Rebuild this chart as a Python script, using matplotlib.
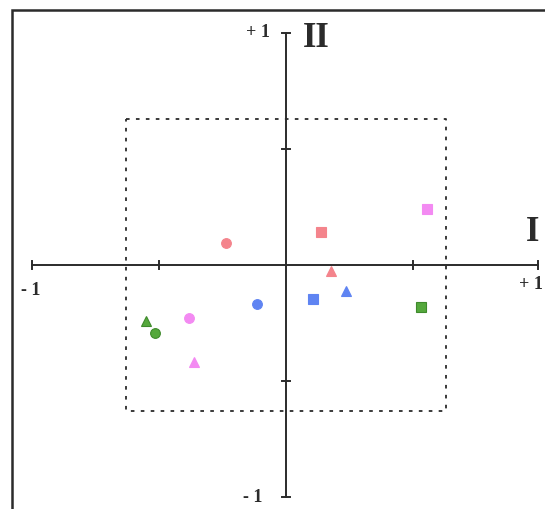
import matplotlib
matplotlib.use("Agg")
import matplotlib.pyplot as plt
from matplotlib.patches import Rectangle

# Factor scores on axes I and II
labels = ["red circle", "red square", "red triangle",
          "blue circle", "blue square", "blue triangle",
          "green circle", "green square", "green triangle",
          "pink circle", "pink square", "pink triangle"]
axis1 = [-0.236, 0.138, 0.177, -0.114, 0.106, 0.236, -0.516, 0.531, -0.551, -0.382, 0.555, -0.362]
axis2 = [0.095, 0.142, -0.026, -0.168, -0.147, -0.112, -0.293, -0.181, -0.241, -0.228, 0.241, -0.418]
group_colors = {"red": "#f4848c", "blue": "#5f84f2", "green": "#55a83c", "pink": "#f38af2"}
shape_markers = {"circle": "o", "square": "s", "triangle": "^"}
box_limit = 0.63

fig = plt.figure(figsize=(5.45, 5.09), dpi=100)
ax = fig.add_axes([0, 0, 1, 1])
ax.set_xlim(-286 / 254, 259 / 254)
ax.set_ylim(-244 / 232, 265 / 232)
ax.axis("off")

ink = "#2b2b2b"
# outer frame
fig.patches.append(Rectangle((12 / 545, -0.05), 1.2, 1 - 10 / 509 + 0.05,
                             transform=fig.transFigure, fill=False,
                             edgecolor=ink, linewidth=1.8))

# principal axes with end caps and half ticks
ax.plot([-1, 0.992], [0, 0], color=ink, lw=1.4)
ax.plot([0, 0], [-1, 1], color=ink, lw=1.4)
cx, cy = 0.016, 0.018
for v in (-1, -0.5, 0.5, 0.992):
    ax.plot([v, v], [-cy, cy], color=ink, lw=1.4)
for v in (-1, -0.5, 0.5, 1):
    ax.plot([-cx, cx], [v, v], color=ink, lw=1.4)

# dotted reference box
ax.plot([-box_limit, box_limit, box_limit, -box_limit, -box_limit],
        [box_limit, box_limit, -box_limit, -box_limit, box_limit],
        color=ink, lw=1.3, linestyle=(0, (2, 3.5)))

# points
for lab, x, y in zip(labels, axis1, axis2):
    grp, shp = lab.split()
    col = group_colors[grp]
    ax.plot(x, y, marker=shape_markers[shp], markersize=7, color=col,
            markeredgecolor=col if grp != "green" else "#3f8a2c",
            markeredgewidth=0.8, linestyle="none")

font = dict(family="Liberation Serif", fontweight="bold", color=ink)
ax.text(-0.063, 1.0, "+ 1", ha="right", va="center", fontsize=13, **font)
ax.text(-0.094, -1.0, "- 1", ha="right", va="center", fontsize=13, **font)
ax.text(-1.004, -0.108, "- 1", ha="center", va="center", fontsize=13, **font)
ax.text(0.965, -0.086, "+ 1", ha="center", va="center", fontsize=13, **font)
ax.text(0.118, 0.975, "II", ha="center", va="center", fontsize=25, **font)
ax.text(0.972, 0.14, "I", ha="center", va="center", fontsize=25, **font)

fig.savefig("out.png", dpi=100)
